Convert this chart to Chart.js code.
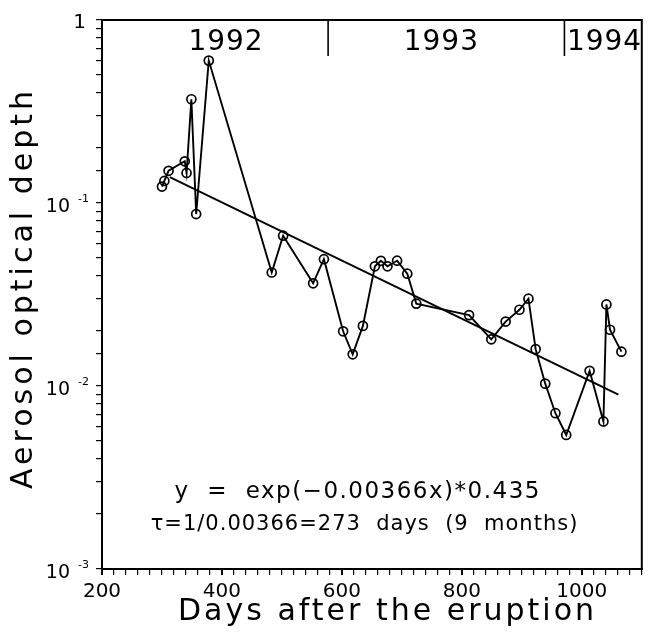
<!DOCTYPE html>
<html>
<head>
<meta charset="utf-8">
<script src="https://cdn.jsdelivr.net/npm/chart.js@4.4.1/dist/chart.umd.min.js"></script>
<style>
  html, body { margin: 0; padding: 0; background: #fff; }
  #wrap { width: 648px; height: 635px; }
</style>
</head>
<body>
<div id="wrap"><canvas id="aodChart" width="648" height="635"></canvas></div>
<script>
// days after the eruption (x) and aerosol optical depth (y)
const days = [300, 304, 311, 338, 341, 349, 357, 378, 483, 502, 552, 570, 602, 618, 635,
              655, 665, 676, 692, 709, 724, 812, 849, 873, 896, 911, 923, 939, 956, 974,
              1013, 1036, 1041, 1047, 1066];
const aod = [0.123, 0.132, 0.150, 0.169, 0.146, 0.369, 0.087, 0.600, 0.0417, 0.0663, 0.0364, 0.0493, 0.0199, 0.0149, 0.0213,
             0.0451, 0.0483, 0.0451, 0.0484, 0.0411, 0.0282, 0.0244, 0.0180, 0.0225, 0.0261, 0.0300, 0.0159, 0.0103, 0.0071, 0.0054,
             0.0121, 0.0064, 0.0279, 0.0203, 0.0154];

// fitted exponential, end points only (straight on a log axis)
const fitDays = [313, 1061];
const fitAod = [0.1384, 0.00896];

// axis ticks
const xTickLabels = [200, 400, 600, 800, 1000];
const yTickValues = [1, 0.1, 0.01, 0.001];
const yTickBase = ['1', '10', '10', '10'];
const yTickPower = ['', '-1', '-2', '-3'];

// year markers along the top
const yearDividers = [577, 971];
const yearNames = ['1992', '1993', '1994'];
const yearCenters = [406, 765, 1037];

const FONT = '"DejaVu Sans", sans-serif';

function spacedText(ctx, text, x, y, spacing) {
    // canvas letterSpacing also pads after the last glyph, shift it back
    ctx.letterSpacing = spacing + 'px';
    ctx.fillText(text, x + spacing / 2, y);
    ctx.letterSpacing = '0px';
}

const decorPlugin = {
    id: 'decor',
    afterDraw(chart) {
        const { ctx, chartArea: area, scales: { x, y } } = chart;
        ctx.save();
        ctx.strokeStyle = '#000';
        ctx.fillStyle = '#000';

        // box
        ctx.lineWidth = 2;
        ctx.strokeRect(area.left, area.top, area.right - area.left, area.bottom - area.top);

        // y tick labels with superscripts
        yTickValues.forEach((v, i) => {
            const py = y.getPixelForValue(v);
            ctx.textBaseline = 'middle';
            if (!yTickPower[i]) {
                ctx.font = '20px ' + FONT;
                ctx.textAlign = 'right';
                ctx.fillText(yTickBase[i], 86, py + 3);
                return;
            }
            ctx.font = '19px ' + FONT;
            ctx.textAlign = 'right';
            ctx.fillText(yTickBase[i], 70, py + 4);
            ctx.font = '11px ' + FONT;
            ctx.textAlign = 'left';
            ctx.fillText(yTickPower[i], 78, py - 4);
        });

        // year dividers + names
        ctx.lineWidth = 1.6;
        yearDividers.forEach(d => {
            const px = x.getPixelForValue(d);
            ctx.beginPath();
            ctx.moveTo(px, area.top);
            ctx.lineTo(px, area.top + 36);
            ctx.stroke();
        });
        ctx.font = '28px ' + FONT;
        ctx.textAlign = 'center';
        ctx.textBaseline = 'middle';
        yearNames.forEach((n, i) => {
            spacedText(ctx, n, x.getPixelForValue(yearCenters[i]), area.top + 23, 1);
        });

        // fit annotation
        ctx.font = '23px ' + FONT;
        spacedText(ctx, 'y  =  exp(\u22120.00366x)*0.435', area.left + 255, 492, 1.5);
        ctx.font = '21px ' + FONT;
        spacedText(ctx, '\u03c4=1/0.00366=273  days  (9  months)', area.left + 262, 525, 1);

        // axis titles
        ctx.font = '30px ' + FONT;
        spacedText(ctx, 'Days after the eruption', 386, 612, 3);
        ctx.save();
        ctx.translate(24, 290);
        ctx.rotate(-Math.PI / 2);
        spacedText(ctx, 'Aerosol optical depth', 0, 0, 4);
        ctx.restore();

        ctx.restore();
    }
};

new Chart(document.getElementById('aodChart').getContext('2d'), {
    type: 'scatter',
    data: {
        datasets: [{
            label: 'AOD',
            data: days.map((d, i) => ({ x: d, y: aod[i] })),
            showLine: true,
            borderColor: '#000',
            borderWidth: 1.9,
            pointRadius: 4.5,
            pointBorderWidth: 1.7,
            pointBorderColor: '#000',
            pointBackgroundColor: 'rgba(0,0,0,0)',
            tension: 0
        }, {
            label: 'fit',
            data: fitDays.map((d, i) => ({ x: d, y: fitAod[i] })),
            showLine: true,
            borderColor: '#000',
            borderWidth: 1.9,
            pointRadius: 0
        }]
    },
    options: {
        responsive: false,
        animation: false,
        layout: { padding: { top: 20, right: 6, left: 0, bottom: 0 } },
        plugins: { legend: { display: false }, tooltip: { enabled: false } },
        scales: {
            x: {
                type: 'linear',
                min: 200,
                max: 1100,
                afterFit: s => { s.height = 66; },
                border: { color: '#000', width: 2 },
                grid: {
                    drawOnChartArea: false,
                    tickLength: 6,
                    color: '#000',
                    lineWidth: c => (c.tick && Math.round(c.tick.value) % 200 === 0 ? 2 : 1.2)
                },
                ticks: {
                    stepSize: 20,
                    autoSkip: false,
                    maxRotation: 0,
                    padding: 5,
                    color: '#000',
                    font: { family: FONT, size: 20 },
                    callback: v => (xTickLabels.includes(Math.round(v)) ? String(Math.round(v)) : '')
                },
                title: { display: false }
            },
            y: {
                type: 'logarithmic',
                min: 0.001,
                max: 1,
                afterFit: s => { s.width = 102; },
                border: { color: '#000', width: 2 },
                grid: {
                    drawOnChartArea: false,
                    tickLength: 6,
                    color: '#000',
                    lineWidth: 1.2
                },
                ticks: {
                    autoSkip: false,
                    callback: () => ''
                },
                title: { display: false }
            }
        }
    },
    plugins: [decorPlugin]
});
</script>
</body>
</html>
